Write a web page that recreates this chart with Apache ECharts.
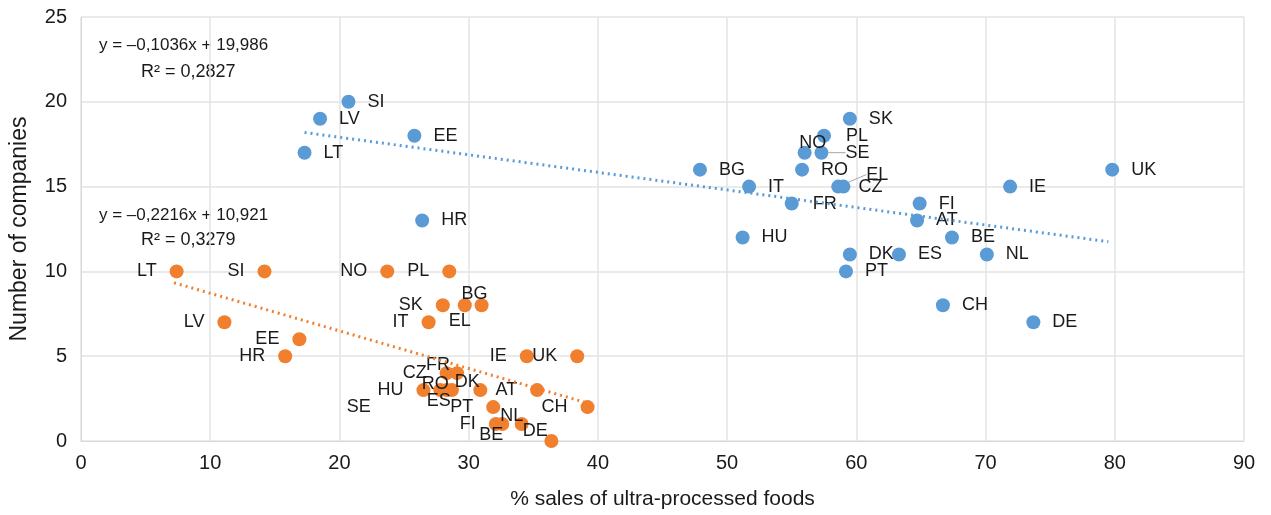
<!DOCTYPE html>
<html>
<head><meta charset="utf-8"></head>
<script type="text/javascript" src="https://cdn.jsdelivr.net/npm/echarts@6/dist/echarts.min.js"></script>
<body style="margin:0;background:#fff;">
    <div id="main" style="width:1271px;height:515px;"></div>
</body>
<script type="text/javascript">
// blue group
var blueCodes = ['SI','LV','EE','LT','HR','BG','IT','FR','HU','NO','SE','PL','SK','RO','EL','CZ','FI','AT','BE','DK','ES','PT','NL','IE','UK','CH','DE']
var blueX = [20.7,18.5,25.8,17.3,26.4,47.9,51.7,55.0,51.2,56.0,57.3,57.5,59.5,55.8,58.6,59.0,64.9,64.7,67.4,59.5,63.3,59.2,70.1,71.9,79.8,66.7,73.7]
var blueY = [20,19,18,17,13,16,15,14,12,17,17,18,19,16,15,15,14,13,12,11,11,10,11,15,16,8,7]
// orange group
var orangeCodes = ['LT','SI','NO','PL','SK','EL','BG','IT','LV','EE','HR','IE','UK','CZ','FR','HU','RO','ES','SE','DK','AT','PT','CH','FI','BE','NL','DE']
var orangeX = [7.4,14.2,23.7,28.5,28.0,29.7,31.0,26.9,11.1,16.9,15.8,34.5,38.4,28.3,29.1,26.5,27.8,28.7,28.3,30.9,35.3,31.9,39.2,32.1,32.6,34.1,36.4]
var orangeY = [10,10,10,10,8,8,8,7,7,6,5,5,5,4,4,3,3,3,3,3,3,2,2,1,1,1,0]
// trend line ends
var blueTrend = [[17.3,18.19],[79.5,11.75]]
var orangeTrend = [[7.2,9.33],[39.0,2.28]]

var blueEq = ['y = \u20130,1036x + 19,986','R\u00b2 = 0,2827']
var orangeEq = ['y = \u20130,2216x + 10,921','R\u00b2 = 0,3279']

// label moves for the blue group (done in labelLayout)
var blueMove = {NO:[8,-10], SE:[12,0], EL:[16,-12]}
var blueLead = {SE:true, EL:true}
var blueDist = {PL:15, CZ:8, FR:14}
// label nudges for orange (text centre minus point centre)
var orangeNudge = {BG:[-7,-11], EL:[-5,16], FR:[-19,-8], RO:[-5,-6], ES:[-13,11], SE:[-88,17], DK:[-13,-8], BE:[-11,11], NL:[-10,-8], DE:[-16,-10]}

var txt = '#1a1a1a'
var font = 'Liberation Sans, Arial, sans-serif'

function build(codes, xs, ys, side, nudge, dist, lead){
    var out = []
    for(var i=0;i<codes.length;i++){
        var c = codes[i]
        var item = {name:c, value:[xs[i], ys[i]]}
        if(nudge[c]){
            item.label = {position:'inside', offset:nudge[c], color:txt}
        }else if(lead[c]){
            item.label = {position:side, distance:5}
            item.labelLine = {show:true, lineStyle:{color:'#a6a6a6', width:1}}
        }else if(c=='NO' && side=='right'){
            item.label = {position:'inside', color:txt}
        }else{
            item.label = {position:side, distance: dist[c] || (side=='right'?12:13)}
        }
        out.push(item)
    }
    return out
}

var myChart = echarts.init(document.getElementById('main'));
var option = {
    animation: false,
    grid: {left:81, right:27, top:17, bottom:74},
    xAxis: {
        type:'value', min:0, max:90, interval:10,
        name:'% sales of ultra-processed foods', nameLocation:'middle', nameGap:48,
        nameTextStyle:{fontSize:21, color:txt, fontFamily:font},
        axisLabel:{fontSize:20, color:txt, fontFamily:font, margin:12},
        axisTick:{show:false},
        axisLine:{lineStyle:{color:'#d9d9d9'}},
        splitLine:{lineStyle:{color:'#e3e3e3', width:1.5}}
    },
    yAxis: {
        type:'value', min:0, max:25, interval:5,
        name:'Number of companies', nameLocation:'middle', nameGap:50, nameRotate:90,
        nameTextStyle:{fontSize:23, color:txt, fontFamily:font},
        axisLabel:{fontSize:20, color:txt, fontFamily:font, margin:14},
        axisTick:{show:false},
        axisLine:{show:true, lineStyle:{color:'#d9d9d9'}},
        splitLine:{lineStyle:{color:'#e3e3e3', width:1.5}}
    },
    graphic: [
        {type:'text', left:99, top:37, style:{text:blueEq[0], fontSize:17, fill:txt, fontFamily:font}},
        {type:'text', left:141, top:63, style:{text:blueEq[1], fontSize:18, fill:txt, fontFamily:font}},
        {type:'text', left:99, top:207, style:{text:orangeEq[0], fontSize:17, fill:txt, fontFamily:font}},
        {type:'text', left:141, top:231, style:{text:orangeEq[1], fontSize:18, fill:txt, fontFamily:font}}
    ],
    series: [
        {
            type:'line', data:blueTrend, symbol:'none', silent:true,
            lineStyle:{color:'#5b9bd5', width:3, type:[2,4]}
        },
        {
            type:'line', data:orangeTrend, symbol:'none', silent:true,
            lineStyle:{color:'#f07f2e', width:3, type:[2,4]}
        },
        {
            type:'scatter', symbolSize:14,
            itemStyle:{color:'#5b9bd5', opacity:1},
            label:{show:true, formatter:'{b}', fontSize:18, color:txt, fontFamily:font},
            labelLayout: function(p){
                var d = blueMove[blueCodes[p.dataIndex]]
                if(d) return {dx:d[0], dy:d[1]}
                return {}
            },
            data: build(blueCodes, blueX, blueY, 'right', {}, blueDist, blueLead)
        },
        {
            type:'scatter', symbolSize:14,
            itemStyle:{color:'#f07f2e', opacity:1},
            label:{show:true, formatter:'{b}', fontSize:18, color:txt, fontFamily:font},
            data: build(orangeCodes, orangeX, orangeY, 'left', orangeNudge, {}, {})
        }
    ]
};
myChart.setOption(option);
</script>
</html>
